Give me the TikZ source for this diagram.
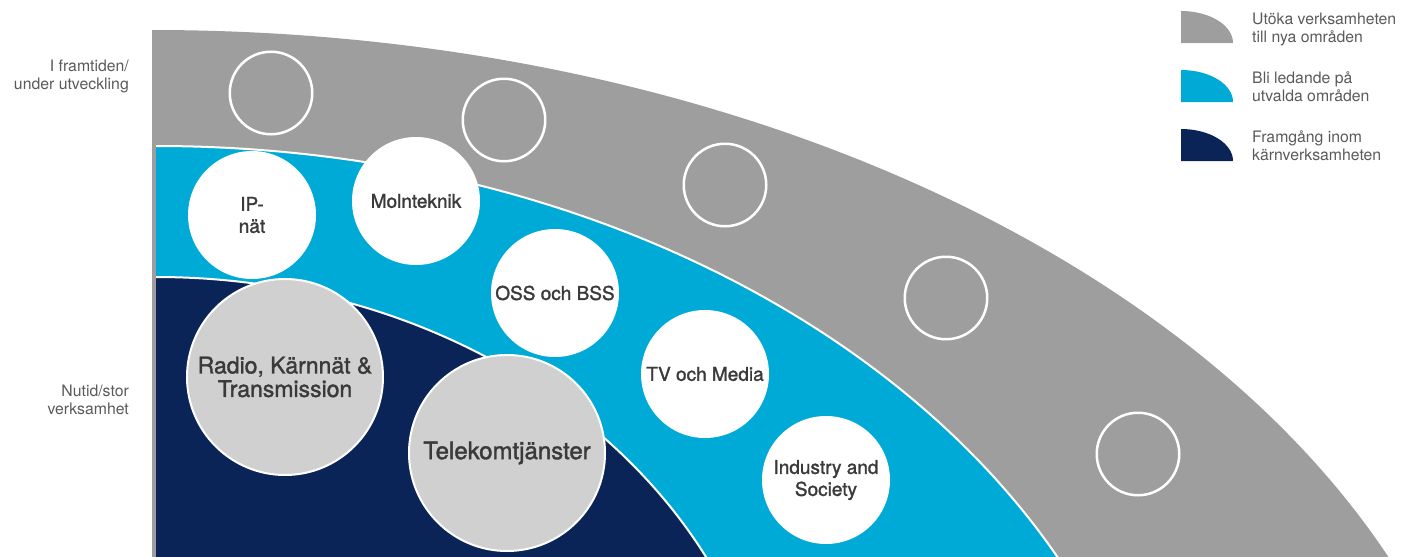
\documentclass[tikz,border=0pt]{standalone}
\usepackage{fontspec}
\setmainfont{TeX Gyre Heros}
\newfontfamily\circfont[FakeBold=1.5]{TeX Gyre Heros}
\definecolor{bandgray}{HTML}{9E9E9E}
\definecolor{bandblue}{HTML}{00AAD6}
\definecolor{bandnavy}{HTML}{0A2458}
\definecolor{discgray}{HTML}{D0D0D0}
\definecolor{inktext}{HTML}{3A3A3A}
\definecolor{sidetext}{HTML}{5A5A5A}
\tikzset{
  whitedisc/.style={circle,fill=white,minimum size=128pt,inner sep=0pt,align=center,text=inktext,font=\circfont\fontsize{19}{22}\selectfont},
  graydisc/.style={circle,fill=discgray,draw=white,line width=2pt,minimum size=196pt,inner sep=0pt,align=center,text=inktext,font=\circfont\fontsize{23}{23.5}\selectfont},
  ringdisc/.style={circle,draw=white,line width=2.5pt,minimum size=82.5pt,inner sep=0pt},
  sidelabel/.style={align=right,anchor=base east,inner sep=0pt,text=sidetext,font=\fontsize{15.8}{18}\selectfont},
  keylabel/.style={align=left,anchor=base west,inner sep=0pt,text=sidetext,font=\fontsize{15.8}{18}\selectfont},
}
\begin{document}
\begin{tikzpicture}[x=1pt,y=-1pt]
\useasboundingbox (0,0) rectangle (1401,557);
\begin{scope}
\clip (0,0) rectangle (1401,557);
\fill[bandgray] (152,900) -- (152,30) arc[start angle=-90,end angle=0,x radius=1345,y radius=870] -- cycle;
\fill[bandblue] (156,900) -- (156,146) arc[start angle=-90,end angle=0,x radius=1012,y radius=754] -- cycle;
\draw[white,line width=2pt] (156,146) arc[start angle=-90,end angle=0,x radius=1012,y radius=754];
\fill[bandnavy] (156,800) -- (156,277) arc[start angle=-90,end angle=0,x radius=621,y radius=523] -- cycle;
\draw[white,line width=2pt] (156,277) arc[start angle=-90,end angle=0,x radius=621,y radius=523];
\end{scope}

\node[ringdisc] (ring1) at (271,93) {};
\node[ringdisc] (ring2) at (504,120) {};
\node[ringdisc] (ring3) at (725,185) {};
\node[ringdisc] (ring4) at (946,298) {};
\node[ringdisc] (ring5) at (1138,454) {};

\node[whitedisc] (ipnat) at (252,215) {IP-\\nät};
\node[whitedisc] (moln) at (416,201) {Molnteknik};
\node[whitedisc] (oss) at (555,293) {OSS och BSS};
\node[whitedisc] (tv) at (705,374) {TV och Media};
\node[whitedisc] (industry) at (826,480) {Industry and\\Society};

\node[graydisc] (radio) at (285,377) {Radio, Kärnnät \&\\Transmission};
\node[graydisc,font=\circfont\fontsize{24}{24}\selectfont] (telekom) at (507,453) {Telekomtjänster};

\node[sidelabel] (future) at (129,89) {I framtiden/\\under utveckling};
\node[sidelabel] (now) at (129,414) {Nutid/stor\\verksamhet};

\fill[bandgray] (1181,43) -- (1181,11) arc[start angle=-90,end angle=0,x radius=52,y radius=32] -- cycle;
\fill[bandblue] (1181,102) -- (1181,70) arc[start angle=-90,end angle=0,x radius=52,y radius=32] -- cycle;
\fill[bandnavy] (1181,161) -- (1181,129) arc[start angle=-90,end angle=0,x radius=52,y radius=32] -- cycle;
\node[keylabel] (keygray) at (1252,42) {Utöka verksamheten\\till nya områden};
\node[keylabel] (keyblue) at (1252,101) {Bli ledande på\\utvalda områden};
\node[keylabel] (keynavy) at (1252,160) {Framgång inom\\kärnverksamheten};
\end{tikzpicture}
\end{document}
